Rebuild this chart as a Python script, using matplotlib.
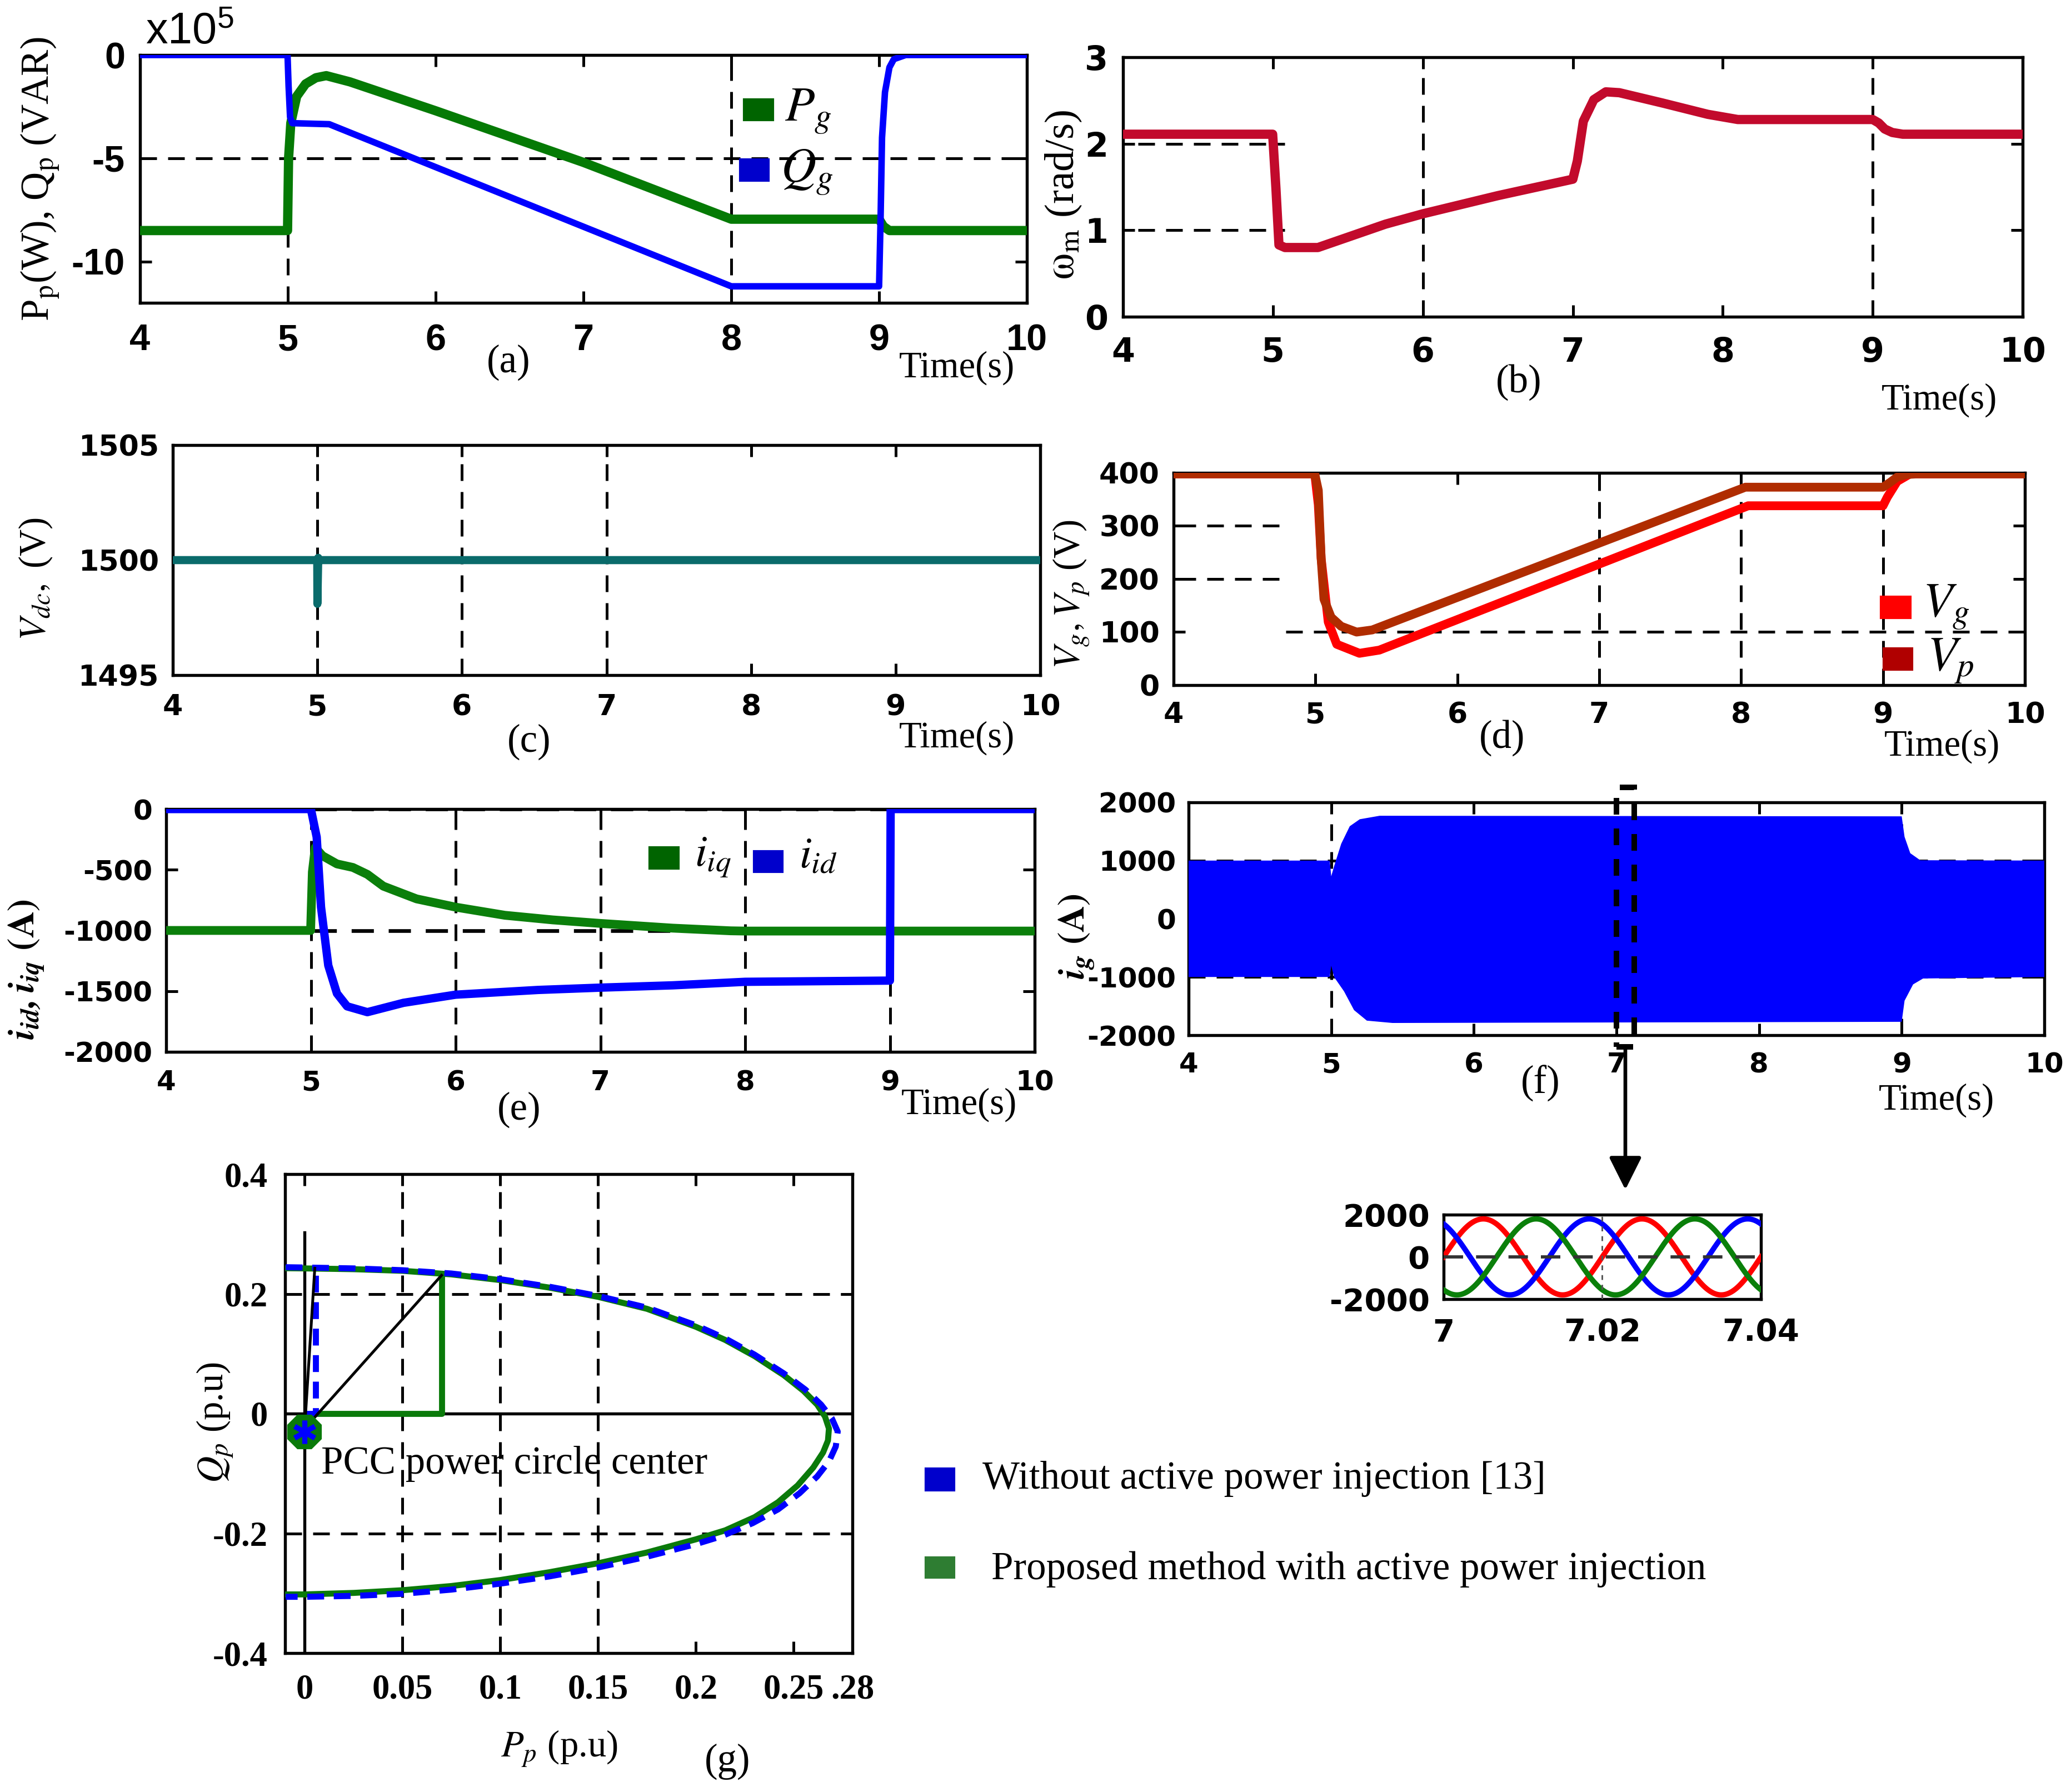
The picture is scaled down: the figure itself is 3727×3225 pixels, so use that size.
import numpy as np
import matplotlib
matplotlib.use('Agg')
import matplotlib.pyplot as plt
from matplotlib.patches import Rectangle, FancyArrowPatch
from matplotlib.font_manager import FontProperties

W, H, DPI = 3727, 3225, 300
plt.rcParams['font.family'] = ['Liberation Serif', 'DejaVu Serif']
plt.rcParams['mathtext.fontset'] = 'stix'
plt.rcParams['axes.unicode_minus'] = False
plt.rcParams['axes.linewidth'] = 1.3

# ---------------- data ----------------
# (a) P_g, Q_g (x1e5)
pg_t = [4.0, 4.998, 5.005, 5.02, 5.06, 5.12, 5.19, 5.26, 5.42, 6.0, 7.0, 8.0, 9.0, 9.03, 9.07, 10.0]
pg_v = [-8.5, -8.5, -5.0, -3.3, -2.0, -1.4, -1.1, -1.0, -1.3, -2.7, -5.2, -7.95, -7.95, -8.3, -8.5, -8.5]
qg_t = [4.0, 4.998, 5.005, 5.015, 5.03, 5.28, 8.0, 9.0, 9.01, 9.02, 9.04, 9.07, 9.1, 9.18, 10.0]
qg_v = [0, 0, -1.5, -3.0, -3.3, -3.35, -11.2, -11.2, -8.0, -4.0, -1.8, -0.6, -0.2, 0, 0]

# (b) omega_m
wm_t = [4, 4.998, 5.02, 5.04, 5.08, 5.3, 5.5, 5.75, 6.0, 6.5, 7.0, 7.03, 7.07, 7.14, 7.22, 7.31,
        7.6, 7.9, 8.1, 9.0, 9.04, 9.08, 9.13, 9.2, 10]
wm_v = [2.11, 2.11, 1.48, 0.83, 0.8, 0.8, 0.92, 1.07, 1.19, 1.4, 1.59, 1.8, 2.26, 2.51, 2.6, 2.59,
        2.47, 2.34, 2.28, 2.28, 2.24, 2.17, 2.13, 2.11, 2.11]

# (c) Vdc
vdc_t = [4, 4.999, 5.0, 5.006, 5.012, 10]
vdc_v = [1500, 1500, 1498.1, 1500.1, 1500, 1500]

# (d) Vg, Vp
vp_t = [4, 4.995, 5.02, 5.04, 5.06, 5.11, 5.18, 5.29, 5.4, 8.03, 9.0, 9.05, 9.1, 9.17, 9.24, 10]
vp_v = [398, 398, 367, 239, 162, 128, 111, 100, 104, 373, 373, 382, 392, 397, 398, 398]
vg_t = [4, 4.995, 5.02, 5.04, 5.09, 5.15, 5.31, 5.45, 8.05, 9.0, 9.03, 9.1, 9.19, 10]
vg_v = [398, 398, 340, 239, 119, 77, 60, 66, 338, 338, 354, 384, 398, 398]

# (e) i_iq, i_id
iq_t = [4, 4.998, 5.01, 5.03, 5.08, 5.18, 5.29, 5.39, 5.5, 5.73, 6.0, 6.34, 6.67, 7.0, 7.5, 7.9, 8.0, 10]
iq_v = [-1000, -1000, -519, -317, -385, -452, -481, -538, -635, -740, -808, -875, -913, -942, -981,
        -1003, -1005, -1005]
id_t = [4, 5.0, 5.04, 5.07, 5.12, 5.18, 5.25, 5.39, 5.64, 6.0, 6.57, 7.0, 7.5, 8.0, 9.0, 9.005, 10]
id_v = [0, 0, -231, -808, -1288, -1519, -1625, -1673, -1596, -1529, -1490, -1471, -1452, -1423,
        -1413, 0, 0]

# (f) i_g envelope
ig_top_t = [4, 4.99, 5.0, 5.02, 5.07, 5.13, 5.2, 5.34, 9.0, 9.02, 9.06, 9.13, 10]
ig_top_v = [1000, 1000, 730, 900, 1288, 1590, 1710, 1770, 1760, 1408, 1127, 1006, 1000]
ig_bot_t = [4, 4.99, 5.0, 5.02, 5.09, 5.16, 5.25, 5.43, 9.0, 9.02, 9.08, 9.15, 10]
ig_bot_v = [-1000, -1000, -805, -1000, -1247, -1569, -1750, -1790, -1770, -1408, -1127, -1026, -1000]

# inset: three-phase currents
ins_amp = 1800
ins_freq = 50.0
ins_phase_deg = {'#FF0000': 0, '#0000FF': 120, '#0A800A': -120}

# (g) PCC power circle (green: proposed, blue: without injection)
g_p = [-0.0097, 0.0, 0.025, 0.05, 0.075, 0.1, 0.125, 0.15, 0.175, 0.2, 0.215, 0.23, 0.245, 0.255,
       0.262, 0.266, 0.268, 0.2675, 0.265, 0.26, 0.252, 0.242, 0.23, 0.215, 0.2, 0.175, 0.15, 0.125,
       0.1, 0.075, 0.05, 0.025, 0.0, -0.0097]
g_q = [0.2428, 0.2425, 0.2412, 0.2385, 0.2325, 0.223, 0.2105, 0.195, 0.175, 0.145, 0.123, 0.096,
       0.064, 0.038, 0.015, -0.005, -0.025, -0.045, -0.065, -0.09, -0.12, -0.148, -0.173, -0.195,
       -0.21, -0.232, -0.25, -0.265, -0.278, -0.288, -0.295, -0.2995, -0.302, -0.302]
b_p = [-0.0097, 0.0, 0.025, 0.05, 0.075, 0.1, 0.125, 0.15, 0.175, 0.2, 0.215, 0.23, 0.245, 0.256,
       0.264, 0.2695, 0.2725, 0.2715, 0.268, 0.262, 0.253, 0.242, 0.229, 0.213, 0.2, 0.175, 0.15,
       0.125, 0.1, 0.075, 0.05, 0.025, 0.0, -0.0097]
b_q = [0.2445, 0.244, 0.2425, 0.2395, 0.234, 0.2245, 0.212, 0.1965, 0.177, 0.1475, 0.1255, 0.0985,
       0.067, 0.04, 0.015, -0.008, -0.03, -0.055, -0.08, -0.105, -0.133, -0.16, -0.183, -0.205,
       -0.218, -0.239, -0.257, -0.272, -0.284, -0.294, -0.301, -0.3045, -0.306, -0.306]
bv_p = [0.0, 0.0056, 0.0056]
bv_q = [0.0, 0.0, 0.243]
gr_p = [0.005, 0.07, 0.07]
gr_q = [0.0, 0.0, 0.231]
diag_p = [0.0, 0.07]
diag_q = [-0.025, 0.231]
vert_p = [0.0, 0.0052]
vert_q = [-0.025, 0.2428]
center_p, center_q = 0.0, -0.031

# ---------------- helpers ----------------
fig = plt.figure(figsize=(W / DPI, H / DPI), dpi=DPI)


def box(l, r, t, b):
    return [l / W, 1 - b / H, (r - l) / W, (b - t) / H]


def ftext(x, y, s, ha='center', va='center', **kw):
    return fig.text(x / W, 1 - y / H, s, ha=ha, va=va, **kw)


def fsquare(x0, y0, x1, y1, color):
    fig.patches.append(Rectangle((x0 / W, 1 - y1 / H), (x1 - x0) / W, (y1 - y0) / H,
                                 transform=fig.transFigure, color=color, figure=fig))


GRID = dict(color='k', lw=1.2, dashes=(6, 4), zorder=1)


def vdash(ax, x, **kw):
    d = dict(GRID); d.update(kw)
    ax.axvline(x, **d)


def hdash(ax, y, x0=None, x1=None, **kw):
    d = dict(GRID); d.update(kw)
    if x0 is None:
        ax.axhline(y, **d)
    else:
        ax.plot([x0, x1], [y, y], **d)


def style(ax, xlim, ylim, xt, xl, yt, yl, fp, xpad, ypad, tlen=5):
    ax.set_xlim(xlim)
    ax.set_ylim(ylim)
    ax.set_xticks(xt)
    ax.set_xticklabels(xl, fontproperties=fp)
    ax.set_yticks(yt)
    ax.set_yticklabels(yl, fontproperties=fp)
    ax.tick_params(direction='in', top=True, right=True, length=tlen, width=1.2)
    ax.tick_params(axis='x', pad=xpad)
    ax.tick_params(axis='y', pad=ypad)


def fp(family, size, weight='bold'):
    return FontProperties(family=family, weight=weight, size=size)


TS = 16   # Time(s) size
LS = 17   # panel letter size
tx = list(range(4, 11))
txl = [str(v) for v in tx]

# ---------------- (a) ----------------
ax = fig.add_axes(box(252, 1848, 99, 545))
vdash(ax, 5); vdash(ax, 8); hdash(ax, -5)
ax.plot(pg_t, pg_v, color='#057A05', lw=4.0, zorder=3)
ax.plot(qg_t, qg_v, color='#0000FF', lw=2.8, zorder=4)
style(ax, (4, 10), (-12, 0), tx, txl, [-10, -5, 0], ['-10', '-5', '0'],
      fp('Liberation Sans', 16), 9, 6.5)
ftext(342, 58, r'x10$^{\mathregular{5}}$', family='Liberation Sans', fontsize=19)
ftext(72, 322, r'P$_{\mathrm{p}}$(W), Q$_{\mathrm{p}}$ (VAR)', rotation=90, fontsize=17)
ftext(915, 652, '(a)', fontsize=LS)
ftext(1722, 662, 'Time(s)', fontsize=TS)
fsquare(1339, 179, 1391, 216, '#006400')
ftext(1412, 218, r'$P_g$', ha='left', va='baseline', fontsize=21)
fsquare(1332, 287, 1383, 325, '#0000CC')
ftext(1405, 328, r'$Q_g$', ha='left', va='baseline', fontsize=21)

# ---------------- (b) ----------------
ax = fig.add_axes(box(2021, 3640, 103, 570))
vdash(ax, 6); vdash(ax, 9)
hdash(ax, 1, 4.1, 5.08); hdash(ax, 2, 4.1, 5.08)
ax.plot(wm_t, wm_v, color='#C20A2C', lw=4.0, zorder=3)
style(ax, (4, 10), (0, 3), tx, txl, [0, 1, 2, 3], ['0', '1', '2', '3'],
      fp('DejaVu Sans', 14.5), 8.5, 6.5)
ftext(1914, 350, r'$\mathrm{\omega_m}$ (rad/s)', rotation=90, fontsize=18)
ftext(2733, 688, '(b)', fontsize=LS)
ftext(3490, 720, 'Time(s)', fontsize=TS)

# ---------------- (c) ----------------
ax = fig.add_axes(box(311, 1872, 801, 1215))
vdash(ax, 5); vdash(ax, 6); vdash(ax, 7)
ax.plot(vdc_t, vdc_v, color='#0A6B6B', lw=3.5, zorder=3)
style(ax, (4, 10), (1495, 1505), tx, txl, [1495, 1500, 1505], ['1495', '1500', '1505'],
      fp('DejaVu Sans', 12.5), 8, 6)
ftext(64, 1042, r'$V_{dc},$ (V)', rotation=90, fontsize=16)
ftext(952, 1335, '(c)', fontsize=LS)
ftext(1722, 1328, 'Time(s)', fontsize=TS)

# ---------------- (d) ----------------
ax = fig.add_axes(box(2112, 3644, 851, 1233))
vdash(ax, 7); vdash(ax, 8); vdash(ax, 9)
hdash(ax, 300, 4.04, 4.79); hdash(ax, 200, 4.04, 4.79); hdash(ax, 100, 4.79, 10)
ax.plot(vg_t, vg_v, color='#FF0000', lw=3.8, zorder=3)
ax.plot(vp_t, vp_v, color='#B02C00', lw=3.8, zorder=4)
style(ax, (4, 10), (0, 400), tx, txl, [0, 100, 200, 300, 400], ['0', '100', '200', '300', '400'],
      fp('DejaVu Sans', 12.5), 7, 6)
ftext(1928, 1070, r'$V_g,V_p$ (V)', rotation=90, fontsize=16)
ftext(2703, 1328, '(d)', fontsize=LS)
ftext(3495, 1343, 'Time(s)', fontsize=TS)
fsquare(3385, 1074, 3438, 1112, '#FF0000')
ftext(3460, 1110, r'$V_g$', ha='left', va='baseline', fontsize=21)
fsquare(3390, 1167, 3441, 1205, '#B00000')
ftext(3468, 1207, r'$V_p$', ha='left', va='baseline', fontsize=21)

# ---------------- (e) ----------------
ax = fig.add_axes(box(299, 1862, 1456, 1893))
for v in [5, 6, 7, 8, 9]:
    vdash(ax, v)
hdash(ax, 0, lw=1.6); hdash(ax, -1000, lw=1.6)
ax.plot(iq_t, iq_v, color='#0B7F0B', lw=3.8, zorder=3)
ax.plot(id_t, id_v, color='#0000FF', lw=3.6, zorder=4)
style(ax, (4, 10), (-2000, 0), tx, txl, [-2000, -1500, -1000, -500, 0],
      ['-2000', '-1500', '-1000', '-500', '0'], fp('DejaVu Sans', 12), 7.5, 6)
ftext(48, 1745, r'$\mathbfit{i_{id},i_{iq}}$ $\mathbf{(A)}$', rotation=90, fontsize=16)
ftext(934, 1997, '(e)', fontsize=LS)
ftext(1726, 1988, 'Time(s)', fontsize=TS)
fsquare(1169, 1525, 1221, 1563, '#006400')
ftext(1250, 1559, r'$i_{iq}$', ha='left', va='baseline', fontsize=19)
fsquare(1357, 1532, 1408, 1569, '#0000CC')
ftext(1438, 1561, r'$i_{id}$', ha='left', va='baseline', fontsize=19)

# ---------------- (f) ----------------
axf = fig.add_axes(box(2139, 3679, 1444, 1863))
vdash(axf, 5); vdash(axf, 9)
hdash(axf, -1000); hdash(axf, 1000)
axf.fill(np.concatenate([ig_top_t, ig_bot_t[::-1]]), np.concatenate([ig_top_v, ig_bot_v[::-1]]),
         color='#0000FF', lw=0, zorder=3)
style(axf, (4, 10), (-2000, 2000), tx, txl, [-2000, -1000, 0, 1000, 2000],
      ['-2000', '-1000', '0', '1000', '2000'], fp('DejaVu Sans', 12), 7, 5.5)
axf.add_patch(Rectangle((7.0, -2200), 0.123, 4460, fill=False, ec='k', lw=2.4,
                        ls=(0, (3, 2.5)), clip_on=False, zorder=6))
ftext(1938, 1685, r'$\mathbfit{i_g}$ $\mathbf{(A)}$', rotation=90, fontsize=16)
ftext(2772, 1950, '(f)', fontsize=LS)
ftext(3485, 1980, 'Time(s)', fontsize=TS)
fig.add_artist(FancyArrowPatch((2925 / W, 1 - 1886 / H), (2925 / W, 1 - 2141 / H),
                               transform=fig.transFigure, arrowstyle='-|>', mutation_scale=30,
                               lw=1.6, color='k', shrinkA=0, shrinkB=0))

# ---------------- inset ----------------
axi = fig.add_axes(box(2598, 3169, 2186, 2338))
ti = np.linspace(7.0, 7.04, 600)
hdash(axi, 0, color='#333333', lw=1.4, zorder=5)
vdash(axi, 7.02, color='#555555', lw=0.7, dashes=(3, 3), zorder=5)
for col, ph in ins_phase_deg.items():
    axi.plot(ti, ins_amp * np.sin(2 * np.pi * ins_freq * (ti - 7.0) + np.deg2rad(ph)),
             color=col, lw=2.3, zorder=3)
style(axi, (7.0, 7.04), (-2000, 2000), [7.0, 7.02, 7.04], ['7', '7.02', '7.04'],
      [-2000, 0, 2000], ['-2000', '0', '2000'], fp('DejaVu Sans', 13.5), 8, 6, tlen=0)

# ---------------- (g) ----------------
axg = fig.add_axes(box(513, 1534, 2113, 2975))
for v in [0.05, 0.1, 0.15]:
    vdash(axg, v)
hdash(axg, 0.2); hdash(axg, -0.2)
axg.axhline(0, color='k', lw=1.3, zorder=2)
axg.plot([0, 0], [-0.4, 0.303], color='k', lw=1.3, zorder=2)
axg.plot(g_p, g_q, color='#0A7A0A', lw=2.6, zorder=3, solid_joinstyle='round')
axg.plot(gr_p, gr_q, color='#0A7A0A', lw=2.6, zorder=3)
axg.plot(b_p, b_q, color='#0000FF', lw=2.6, dashes=(2.8, 1.6), zorder=4)
axg.plot(bv_p, bv_q, color='#0000FF', lw=2.6, dashes=(2.8, 1.6), zorder=4)
axg.plot(diag_p, diag_q, color='k', lw=1.2, zorder=5)
axg.plot(vert_p, vert_q, color='k', lw=1.2, zorder=5)
axg.plot([center_p], [center_q], marker='8', ms=15, color='#0A7A0A', zorder=6)
axg.plot([center_p], [center_q], marker=(6, 2, 0), ms=10, mew=2.2, color='#0000FF', zorder=7)
style(axg, (-0.01, 0.28), (-0.4, 0.4), [0, 0.05, 0.1, 0.15, 0.2, 0.25, 0.28],
      ['0', '0.05', '0.1', '0.15', '0.2', '0.25', '.28'], [-0.4, -0.2, 0, 0.2, 0.4],
      ['-0.4', '-0.2', '0', '0.2', '0.4'], fp('Liberation Serif', 15), 9, 7.5)
axg.text(0.0085, -0.1, 'PCC power circle center', fontsize=17, ha='left', va='baseline', zorder=8)
ftext(387, 2560, r'$Q_p$ (p.u)', rotation=90, fontsize=16)
ftext(1006, 3147, r'$P_p$ (p.u)', fontsize=16)
ftext(1309, 3170, '(g)', fontsize=LS)

# ---------------- bottom legend ----------------
fsquare(1666, 2643, 1717, 2682, '#0000CC')
ftext(1768, 2661, 'Without active power injection [13]', ha='left', fontsize=17)
fsquare(1666, 2803, 1717, 2839, '#2E7D32')
ftext(1784, 2824, 'Proposed method with active power injection', ha='left', fontsize=17)

fig.savefig('out.png', dpi=DPI)
